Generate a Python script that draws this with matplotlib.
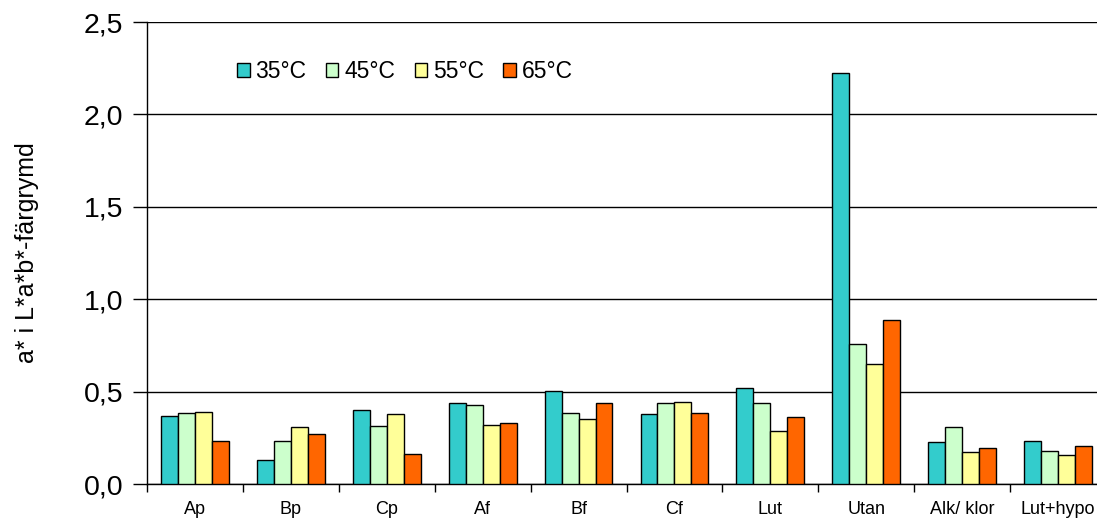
import numpy as np
import matplotlib.pyplot as plt
from matplotlib.ticker import FixedLocator, FuncFormatter

plt.rcParams['font.family'] = ['Liberation Sans', 'DejaVu Sans']

# a* values per treatment and temperature
categories = ['Ap', 'Bp', 'Cp', 'Af', 'Bf', 'Cf', 'Lut', 'Utan', 'Alk/ klor', 'Lut+hypo']
series = ['35°C', '45°C', '55°C', '65°C']
v35 = [0.37, 0.128, 0.399, 0.437, 0.505, 0.378, 0.522, 2.225, 0.226, 0.235]
v45 = [0.385, 0.233, 0.316, 0.43, 0.384, 0.438, 0.438, 0.758, 0.309, 0.181]
v55 = [0.39, 0.307, 0.377, 0.317, 0.353, 0.446, 0.286, 0.652, 0.172, 0.159]
v65 = [0.233, 0.271, 0.164, 0.331, 0.438, 0.384, 0.362, 0.885, 0.197, 0.204]
colors = ['#33CCCC', '#CCFFCC', '#FFFF99', '#FF6600']

fig = plt.figure(figsize=(10.97, 5.19), dpi=100)
ax = fig.add_axes([147/1097, 1 - 484/519, 959/1097, 462/519])

x = np.arange(len(categories))
w = 0.177
for i, (vals, lab) in enumerate(zip([v35, v45, v55, v65], series)):
    ax.bar(x + (i - 1.5) * w, vals, w, color=colors[i], edgecolor='black',
           linewidth=1.0, label=lab, zorder=3)

ax.set_xlim(-0.5, len(categories) - 0.5)
ax.set_ylim(0, 2.5)
ax.set_yticks(np.arange(0, 2.51, 0.5))
ax.yaxis.set_major_formatter(FuncFormatter(lambda v, p: f'{v:.1f}'.replace('.', ',')))
ax.tick_params(axis='y', labelsize=20.5, length=10, width=1, pad=7)
ax.grid(axis='y', color='black', linewidth=1, zorder=0)

ax.set_xticks(x)
ax.set_xticklabels(categories)
ax.xaxis.set_minor_locator(FixedLocator(np.arange(-0.5, len(categories), 1)))
ax.tick_params(axis='x', which='major', length=0, labelsize=13, pad=12.5)
ax.tick_params(axis='x', which='minor', length=6, width=1)

for s in ['top', 'right']:
    ax.spines[s].set_visible(False)
ax.spines['left'].set_linewidth(1)
ax.spines['bottom'].set_linewidth(1)

ax.set_ylabel('a* i L*a*b*-färgrymd', fontsize=18)
ax.yaxis.set_label_coords(-0.113, 0.5)

fig.legend(loc='center left', bbox_to_anchor=(237/1097, 1 - 71.5/519), ncol=4,
           frameon=False, fontsize=16.5, handlelength=0.55, handleheight=0.55,
           handletextpad=0.25, columnspacing=0.85, borderpad=0, borderaxespad=0)

fig.savefig('out.png', dpi=100)
